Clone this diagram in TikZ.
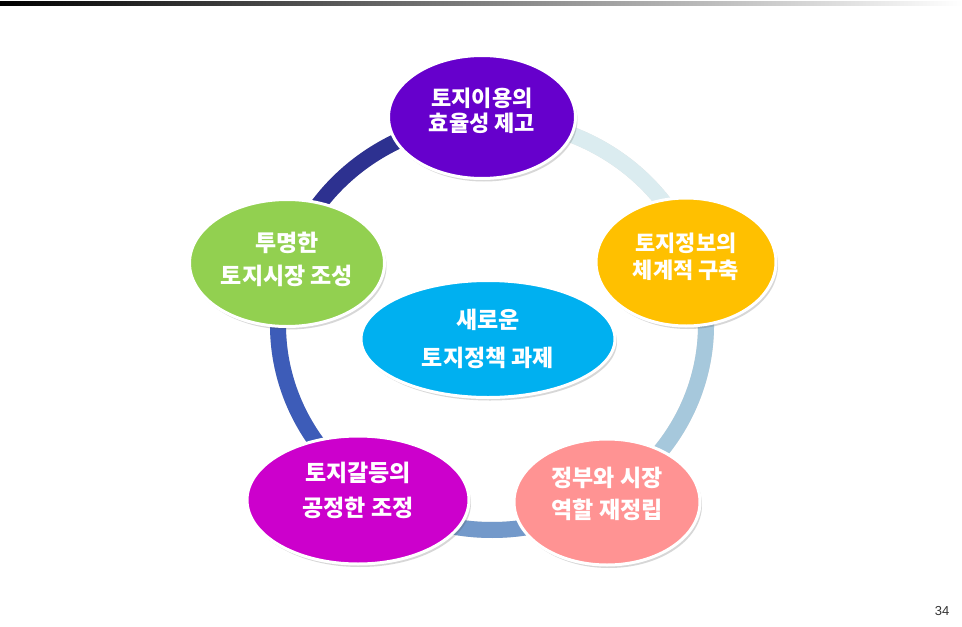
\documentclass[tikz,border=0pt]{standalone}
\usepackage{fontspec}
\setmainfont{Liberation Sans}
\newfontfamily\kr{Noto Sans CJK KR}
\usetikzlibrary{shapes.geometric,shadows,calc}
\definecolor{cPurple}{HTML}{6600CC}
\definecolor{cOrange}{HTML}{FFC000}
\definecolor{cGreen}{HTML}{92D050}
\definecolor{cBlue}{HTML}{00B0F0}
\definecolor{cMagenta}{HTML}{CC00CC}
\definecolor{cPink}{HTML}{FF9393}
\definecolor{arcNavy}{HTML}{2D3190}
\definecolor{arcPale}{HTML}{DBECF0}
\definecolor{arcLight}{HTML}{A6C8DC}
\definecolor{arcMid}{HTML}{7399CA}
\definecolor{arcBlue}{HTML}{3D5CB8}
\definecolor{pgnum}{HTML}{333333}
\begin{document}
\begin{tikzpicture}[x=1pt,y=-1pt,
  bubble/.style={ellipse, draw=white, line width=3pt, inner sep=0pt,
    drop shadow={shadow xshift=2pt, shadow yshift=-3pt, opacity=0.22, fill=black!70}},
  ringarc/.style={line width=16pt, line cap=butt},
  arcshadow/.style={line width=16pt, line cap=butt, draw=black, opacity=0.12, xshift=1.5pt, yshift=-2pt},
  lbl/.style={text=white, align=center, inner sep=0pt}
]
\fill[white] (0,0) rectangle (962,627);
\useasboundingbox (0,0) rectangle (962,627);
\shade[left color=black, right color=white] (0,1) rectangle (962,5);

% ring
\coordinate (ring) at (492,325);
\coordinate (r1) at ($(ring)+(268:214 and 205)$);
\coordinate (r2) at ($(ring)+(340:214 and 205)$);
\coordinate (r3) at ($(ring)+(58:214 and 205)$);
\coordinate (r4) at ($(ring)+(126:214 and 205)$);
\coordinate (r5) at ($(ring)+(197:214 and 205)$);

\draw[arcshadow] (r1) arc[start angle=268, end angle=340, x radius=214, y radius=205];
\draw[arcshadow] (r2) arc[start angle=-20, end angle=58, x radius=214, y radius=205];
\draw[arcshadow] (r3) arc[start angle=58, end angle=126, x radius=214, y radius=205];
\draw[arcshadow] (r4) arc[start angle=126, end angle=197, x radius=214, y radius=205];
\draw[arcshadow] (r5) arc[start angle=197, end angle=268, x radius=214, y radius=205];

\draw[ringarc, arcPale] (r1) arc[start angle=268, end angle=340, x radius=214, y radius=205];
\draw[ringarc, arcLight] (r2) arc[start angle=-20, end angle=58, x radius=214, y radius=205];
\draw[ringarc, arcMid] (r3) arc[start angle=58, end angle=126, x radius=214, y radius=205];
\draw[ringarc, arcBlue] (r4) arc[start angle=126, end angle=197, x radius=214, y radius=205];
\draw[ringarc, arcNavy] (r5) arc[start angle=197, end angle=268, x radius=214, y radius=205];

% bubbles
\node[bubble, fill=cPurple, minimum width=187pt, minimum height=123pt] (purple) at (482,117) {};
\node[bubble, fill=cOrange, minimum width=180pt, minimum height=128pt] (orange) at (686,262) {};
\node[bubble, fill=cGreen, minimum width=195pt, minimum height=127pt] (green) at (287,263) {};
\node[bubble, fill=cMagenta, minimum width=222pt, minimum height=128pt] (magenta) at (358,500) {};
\node[bubble, fill=cPink, minimum width=186pt, minimum height=126pt] (pink) at (607,502) {};
\node[bubble, fill=cBlue, minimum width=254pt, minimum height=117pt] (center) at (488,339) {};

% labels
\node[lbl, font=\kr\bfseries\fontsize{22}{25}\selectfont] (tPurple) at ([yshift=6pt]purple.center) {토지이용의\\효율성 제고};
\node[lbl, font=\kr\bfseries\fontsize{22}{27}\selectfont] (tOrange) at ([yshift=5pt]orange.center) {토지정보의\\체계적 구축};
\node[lbl, font=\kr\bfseries\fontsize{23}{33}\selectfont] (tGreen) at ([yshift=4pt]green.center) {투명한\\토지시장 조성};
\node[lbl, font=\kr\bfseries\fontsize{23}{38}\selectfont] (tCenter) at ([yshift=0pt]center.center) {새로운\\토지정책 과제};
\node[lbl, font=\kr\bfseries\fontsize{23}{35}\selectfont] (tMagenta) at ([yshift=10pt]magenta.center) {토지갈등의\\공정한 조정};
\node[lbl, font=\kr\bfseries\fontsize{23}{32}\selectfont] (tPink) at ([yshift=8pt]pink.center) {정부와 시장\\역할 재정립};

\node[text=pgnum, font=\fontsize{13}{15}\selectfont, inner sep=0pt] (page) at (942,611) {34};
\end{tikzpicture}
\end{document}
